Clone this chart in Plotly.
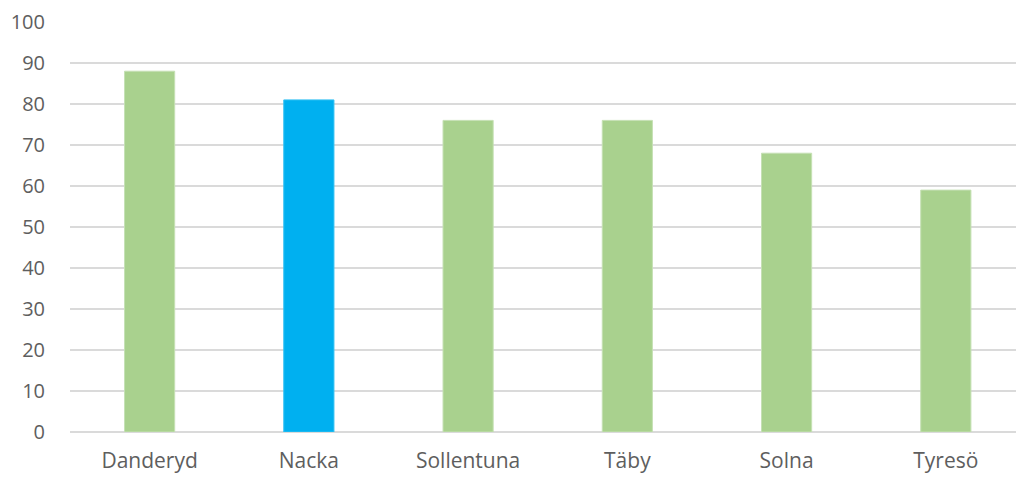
import plotly.graph_objects as go

categories = ["Danderyd", "Nacka", "Sollentuna", "Täby", "Solna", "Tyresö"]
values = [88, 81, 76, 76, 68, 59]
colors = ["#A9D18E", "#00B0F0", "#A9D18E", "#A9D18E", "#A9D18E", "#A9D18E"]
line_colors = ["#C5E0B4", "#33C1F3", "#C5E0B4", "#C5E0B4", "#C5E0B4", "#C5E0B4"]
y_ticks = [0, 10, 20, 30, 40, 50, 60, 70, 80, 90, 100]

fig = go.Figure(go.Bar(
    x=categories, y=values,
    marker=dict(color=colors, line=dict(color=line_colors, width=1)),
    width=0.315,
))

fig.update_layout(
    width=1035, height=479,
    margin=dict(l=70, r=0, t=22, b=47),
    paper_bgcolor="white", plot_bgcolor="white",
    font=dict(family="Open Sans", color="#5E5E5E", size=21),
    showlegend=False,
    xaxis=dict(range=[-0.5, 5.56], showgrid=False, showline=False, ticks="",
               tickfont=dict(size=21), ticklabelstandoff=14),
    yaxis=dict(range=[0, 100], tickvals=y_ticks, showgrid=True,
               gridcolor="#DADADA", gridwidth=2, zeroline=True,
               zerolinecolor="#DADADA", zerolinewidth=2, showline=False,
               ticks="", tickfont=dict(size=20), ticklabelstandoff=24),
)

fig.write_html("out.html", config={"displayModeBar": False},
               post_script="document.documentElement.style.overflow='hidden';document.body.style.margin='0';document.body.style.overflow='hidden';")
